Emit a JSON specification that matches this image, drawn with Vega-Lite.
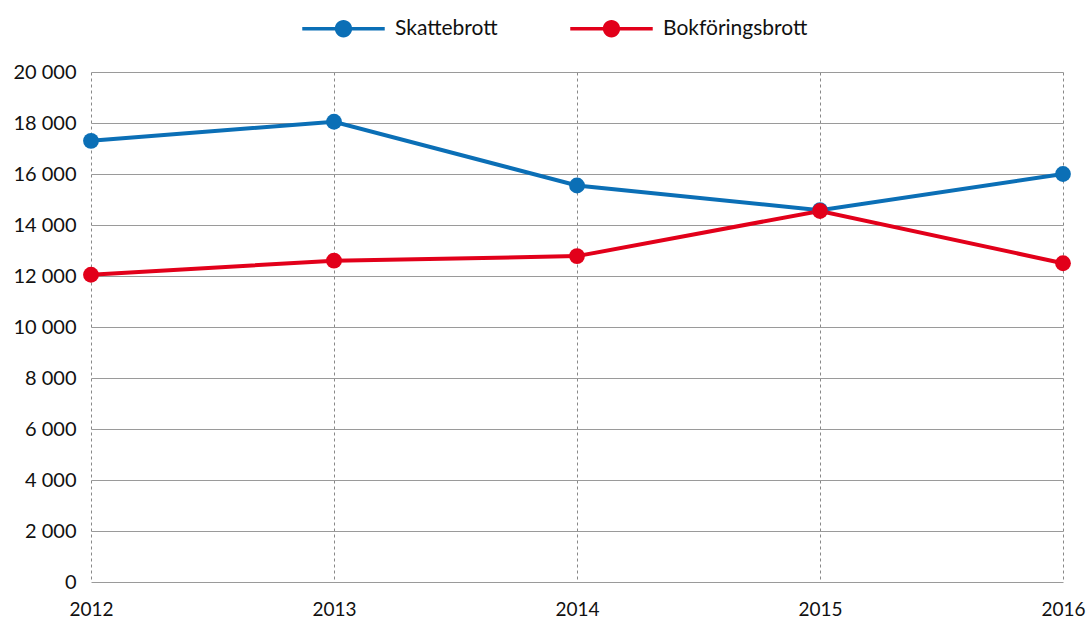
{
  "$schema": "https://vega.github.io/schema/vega-lite/v6.json",
  "width": 972,
  "height": 510,
  "autosize": "none",
  "padding": {"left": 91, "top": 72, "right": 24, "bottom": 39},
  "background": "white",
  "config": {
    "view": {"stroke": null},
    "font": "Lato",
    "axis": {"labelFont": "Lato", "labelFontSize": 20, "labelColor": "#111111"},
    "legend": {"labelFont": "Lato", "labelFontSize": 21, "labelColor": "#111111"}
  },
  "data": {
    "values": [
      {"year": 2012, "series": "Skattebrott", "value": 17300},
      {"year": 2013, "series": "Skattebrott", "value": 18050},
      {"year": 2014, "series": "Skattebrott", "value": 15550},
      {"year": 2015, "series": "Skattebrott", "value": 14580},
      {"year": 2016, "series": "Skattebrott", "value": 16000},
      {"year": 2012, "series": "Bokföringsbrott", "value": 12050},
      {"year": 2013, "series": "Bokföringsbrott", "value": 12600},
      {"year": 2014, "series": "Bokföringsbrott", "value": 12780},
      {"year": 2015, "series": "Bokföringsbrott", "value": 14550},
      {"year": 2016, "series": "Bokföringsbrott", "value": 12500}
    ]
  },
  "mark": {"type": "line", "strokeWidth": 4, "point": {"filled": true, "size": 250, "opacity": 1}},
  "encoding": {
    "x": {
      "field": "year", "type": "quantitative",
      "scale": {"domain": [2012, 2016], "nice": false, "zero": false},
      "axis": {
        "title": null, "values": [2012, 2013, 2014, 2015, 2016], "format": "d",
        "domain": false, "ticks": false, "labelPadding": 18, "labelFontSize": 19,
        "grid": true, "gridDash": [3, 3], "gridColor": "#888888", "gridWidth": 1,
        "labelFlush": false
      }
    },
    "y": {
      "field": "value", "type": "quantitative",
      "scale": {"domain": [0, 20000], "nice": false},
      "axis": {
        "title": null, "values": [0, 2000, 4000, 6000, 8000, 10000, 12000, 14000, 16000, 18000, 20000],
        "labelExpr": "replace(format(datum.value, ','), ',', ' ')",
        "domain": false, "ticks": false, "labelPadding": 15,
        "grid": true, "gridColor": "#9a9a9a", "gridWidth": 1
      }
    },
    "color": {
      "field": "series", "type": "nominal",
      "scale": {"domain": ["Skattebrott", "Bokföringsbrott"], "range": ["#0b6fb6", "#e2001a"]},
      "legend": {
        "title": null, "orient": "none", "legendX": 211, "legendY": -85, "direction": "horizontal",
        "symbolType": "M-1,-0.045 L1,-0.045 L1,0.045 L-1,0.045 Z M0.21,0 A0.21,0.21 0 1,1 -0.21,0 A0.21,0.21 0 1,1 0.21,0 Z",
        "symbolSize": 6800, "symbolStrokeWidth": 0, "symbolOpacity": 1,
        "labelOffset": 10, "columnPadding": 72
      }
    }
  }
}
